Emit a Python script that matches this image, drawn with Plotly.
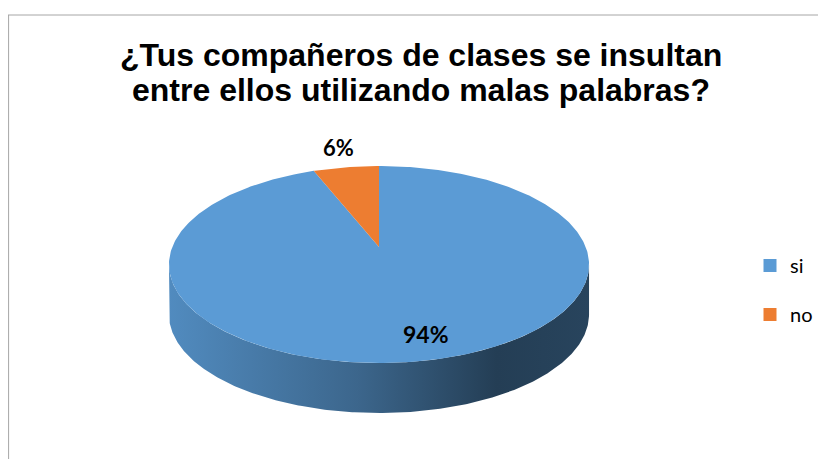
import numpy as np
import plotly.graph_objects as go

# ---- data ----
labels = ["si", "no"]
values = [94, 6]
colors = ["#5B9BD5", "#ED7D31"]
title_lines = ["¿Tus compañeros de clases se insultan", "entre ellos utilizando malas palabras?"]

# ---- geometry / style ----
W, H = 826, 459
OFF = 8                    # page body margin
CX, CY = 379, 247          # projected pie centre (screen pixels)
B, A, P = 206.7, 95.4, 0.1776  # horizontal radius, vertical radius, perspective factor
DEPTH = 50


def proj(theta_deg, r=1.0):
    t = np.radians(theta_deg)
    u = r * np.sin(t)
    v = r * np.cos(t)
    d = 1 + P * v
    return CX + B * u / d, CY - A * v / d


def shade(hexcol, f):
    h = hexcol.lstrip("#")
    rgb = [int(h[i:i + 2], 16) for i in (0, 2, 4)]
    return "rgb(%d,%d,%d)" % tuple(max(0, min(255, int(c * f))) for c in rgb)


total = sum(values)
fig = go.Figure()

# slice angle ranges (clockwise from 12 o'clock)
bounds = []
acc = 0
for v in values:
    start = acc / total * 360
    acc += v
    end = acc / total * 360
    bounds.append((start, end))

# visible front side
th_r = np.degrees(np.arccos(-P))
front = (th_r, 360 - th_r)
for (s, e), c in zip(bounds, colors):
    lo, hi = max(s, front[0]), min(e, front[1])
    if hi <= lo:
        continue
    arc = np.linspace(lo, hi, 300)
    xt, yt = proj(arc)
    xs = np.concatenate([xt, xt[::-1]])
    ys = np.concatenate([yt, yt[::-1] + DEPTH])
    fig.add_trace(go.Scatter(
        x=xs, y=ys, mode="lines", fill="toself", line=dict(width=0),
        fillgradient=dict(type="horizontal", colorscale=[
            [0, shade(c, 0.9)], [0.45, shade(c, 0.66)], [0.78, shade(c, 0.4)], [1, shade(c, 0.44)]]),
        hoverinfo="skip", showlegend=False))

# top faces
cx0, cy0 = proj(0, 0)
for (s, e), c, lab in zip(bounds, colors, labels):
    arc = np.linspace(s, e, 400)
    xt, yt = proj(arc)
    xs = np.concatenate([[cx0], xt, [cx0]])
    ys = np.concatenate([[cy0], yt, [cy0]])
    fig.add_trace(go.Scatter(
        x=xs, y=ys, mode="lines", fill="toself", fillcolor=c,
        line=dict(width=0), hoverinfo="skip", showlegend=False))

# legend entries
for lab, c in zip(labels, colors):
    fig.add_trace(go.Scatter(
        x=[None], y=[None], mode="markers", name=lab, legendgroup=lab,
        marker=dict(symbol="square", size=13, color=c)))

# percentage labels
label_r = [0.8, 1.3]
label_size = [23, 22]
label_xshift = [11, 1]
for (s, e), v, r, fs, xs_ in zip(bounds, values, label_r, label_size, label_xshift):
    lx, ly = proj((s + e) / 2, r)
    fig.add_annotation(x=float(lx), y=float(ly), text="%d%%" % round(v / total * 100),
                       showarrow=False, xshift=xs_,
                       font=dict(family="Lato", size=fs, color="black", weight="bold"))

# title (two lines, tighter spacing)
for line, ty in zip(title_lines, [55, 90]):
    fig.add_annotation(x=421, y=ty, text=line, showarrow=False,
                       font=dict(family="Liberation Sans", size=32, color="black", weight="bold"))

# border (left + top edges of the chart frame)
fig.add_shape(type="line", xref="paper", yref="y", x0=0.6 / W, x1=0.6 / W, y0=15, y1=H + 20,
              line=dict(color="#a6a6a6", width=1))
fig.add_shape(type="line", xref="paper", yref="y", x0=0, x1=1, y0=15, y1=15,
              line=dict(color="#a6a6a6", width=1))

fig.update_layout(
    width=W, height=H, margin=dict(l=0, r=0, t=0, b=0),
    paper_bgcolor="white", plot_bgcolor="white",
    xaxis=dict(range=[OFF, W + OFF], visible=False, fixedrange=True),
    yaxis=dict(range=[H + OFF, OFF], visible=False, fixedrange=True),
    showlegend=True,
    legend=dict(x=(750 - OFF) / W, y=1 - (290 - OFF) / H, xanchor="left", yanchor="middle",
                traceorder="grouped", tracegroupgap=20,
                font=dict(family="Lato", size=20, color="black"), itemwidth=30),
)

fig.write_html("out.html")
